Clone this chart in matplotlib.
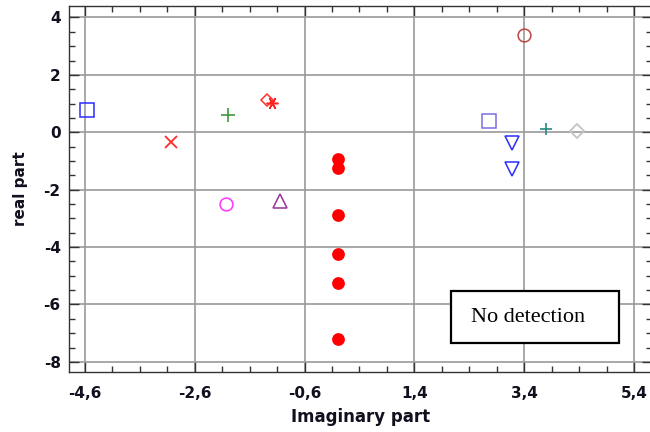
import matplotlib
matplotlib.use("Agg")
import matplotlib.pyplot as plt
from matplotlib.patches import Rectangle
from matplotlib.ticker import FixedLocator, MultipleLocator, FuncFormatter

# ---- data (imaginary part, real part) ----
blue_square = ([-4.57], [0.78])
red_x = ([-3.03], [-0.33])
green_plus = ([-1.99], [0.60])
red_diamond = ([-1.28], [1.13])
red_asterisk = ([-1.19], [1.03])
red_dots_x = [0.0, 0.0, 0.0, 0.0, 0.0, 0.0]
red_dots_y = [-0.92, -1.25, -2.87, -4.23, -5.26, -7.20]
magenta_circle = ([-2.03], [-2.50])
purple_triangle = ([-1.04], [-2.38])
brown_circle = ([3.40], [3.40])
slate_square = ([2.75], [0.38])
blue_tri_down = ([3.17, 3.17], [-0.36, -1.29])
teal_plus = ([3.79], [0.12])
gray_diamond = ([4.36], [0.06])

xticks = [-4.6, -2.6, -0.6, 1.4, 3.4, 5.4]
yticks = [-8, -6, -4, -2, 0, 2, 4]
xlabel = "Imaginary part"
ylabel = "real part"
box_text = "No detection"

fig = plt.figure(figsize=(6.5, 4.32), dpi=100)
ax = fig.add_axes([69/650, 1-372/432, 583/650, 366/432])

ax.set_xlim(-4.891, 5.728)
ax.set_ylim(-8.352, 4.40)

ms = 9.5
mew = 1.1
ax.plot(*blue_square, 's', mfc='none', mec='#2b2bff', ms=ms, mew=mew)
ax.plot(*red_x, 'x', color='#ff2a2a', ms=9, mew=1.3)
ax.plot(*green_plus, '+', color='#3c9a3c', ms=ms, mew=1.2)
ax.plot(*red_diamond, 'D', mfc='none', mec='#ff3030', ms=6.6, mew=mew)
ax.plot(*red_asterisk, marker=(6, 2, 90), ls='none', color='#ff2020', ms=8.5, mew=1.1)
ax.plot(red_dots_x, red_dots_y, 'o', color='#ff0000', ms=9.2, mew=0)
ax.plot(*magenta_circle, 'o', mfc='none', mec='#ff33ff', ms=9.2, mew=mew)
ax.plot(*purple_triangle, '^', mfc='none', mec='#993399', ms=10, mew=mew)
ax.plot(*brown_circle, 'o', mfc='none', mec='#c04545', ms=9.2, mew=mew)
ax.plot(*slate_square, 's', mfc='none', mec='#7a6fe0', ms=ms, mew=mew)
ax.plot(*blue_tri_down, 'v', mfc='none', mec='#2b2bff', ms=10, mew=mew)
ax.plot(*teal_plus, '+', color='#2a8a80', ms=9, mew=1.2)
ax.plot(*gray_diamond, 'D', mfc='none', mec='#c4c4c4', ms=7.6, mew=1.3)

ax.xaxis.set_major_locator(FixedLocator(xticks))
ax.xaxis.set_minor_locator(MultipleLocator(0.5, offset=0.4))
ax.yaxis.set_major_locator(FixedLocator(yticks))
ax.yaxis.set_minor_locator(MultipleLocator(0.5))

fmt = FuncFormatter(lambda v, p: (f"{v:.1f}" if abs(v - round(v)) > 1e-6 else f"{int(round(v))}").replace('.', ','))
ax.xaxis.set_major_formatter(fmt)
ax.yaxis.set_major_formatter(fmt)

ax.tick_params(which='both', direction='in', top=True, right=True, colors='#333333')
ax.tick_params(which='major', length=7.5, width=1.0, labelsize=11, labelcolor='#10101e')
ax.tick_params(which='minor', length=4, width=1.0)
ax.tick_params(axis='x', which='major', pad=10)
ax.tick_params(axis='y', which='major', pad=6)
for lbl in ax.get_xticklabels() + ax.get_yticklabels():
    lbl.set_fontweight('bold')
    lbl.set_family('DejaVu Sans')

ax.grid(True, which='major', color='#9a9a9a', lw=1.2)
ax.set_axisbelow(True)
for s in ax.spines.values():
    s.set_color('#333333')
    s.set_linewidth(1.0)

ax.set_xlabel(xlabel, fontsize=12, fontweight='bold', family='DejaVu Sans', labelpad=5, color='#10101e')
ax.set_ylabel(ylabel, fontsize=11, fontweight='bold', family='DejaVu Sans', labelpad=11, color='#10101e')

ax.add_patch(Rectangle((0.655, 0.080), 0.288, 0.142, transform=ax.transAxes,
                       fill=True, fc='white', ec='black', lw=1.6, zorder=5))
ax.text(0.788, 0.137, box_text, transform=ax.transAxes, ha='center', va='baseline',
        fontsize=16, family='Liberation Serif', zorder=6)

fig.savefig("out.png", dpi=100)
